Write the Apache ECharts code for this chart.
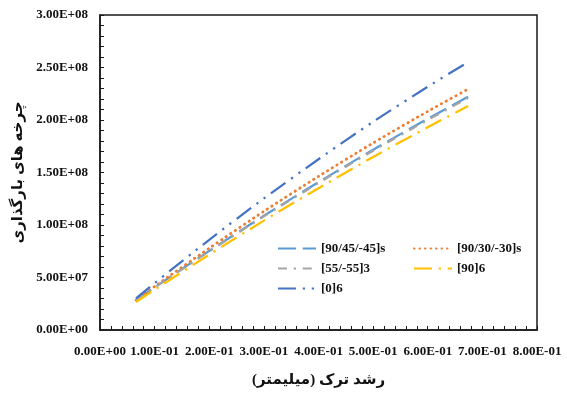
<!DOCTYPE html>
<html>
<head>
<meta charset="utf-8">
<script src="https://cdn.jsdelivr.net/npm/echarts@6/dist/echarts.min.js"></script>
<style>
  html, body { margin: 0; padding: 0; background: #fff; }
  #chart { width: 567px; height: 394px; }
</style>
</head>
<body>
<div id="chart"></div>
<script>
// Crack growth (mm) sampled along each curve
const crackGrowth = [0.066, 0.1, 0.2, 0.3, 0.4, 0.5, 0.6, 0.674];

// Loading cycles for each layup
const cycles_90_45_45s = [2.86e7, 4.07e7, 7.53e7, 1.088e8, 1.408e8, 1.717e8, 2.012e8, 2.222e8];
const cycles_90_30_30s = [2.86e7, 4.15e7, 7.79e7, 1.130e8, 1.463e8, 1.781e8, 2.082e8, 2.295e8];
const cycles_55_55_3   = [2.84e7, 4.05e7, 7.49e7, 1.082e8, 1.400e8, 1.708e8, 2.001e8, 2.210e8];
const cycles_90_6      = [2.67e7, 3.84e7, 7.18e7, 1.042e8, 1.350e8, 1.648e8, 1.931e8, 2.133e8];
const cycles_0_6       = [3.02e7, 4.47e7, 8.59e7, 1.253e8, 1.626e8, 1.983e8, 2.317e8, 2.552e8];

const seriesNames = ['[90/45/-45]s', '[90/30/-30]s', '[55/-55]3', '[90]6', '[0]6'];

const xTitle = 'رشد ترک (میلیمتر)';
const yTitle = 'چرخه های بارگذاری';

function sci(v) {
  if (Math.abs(v) < 1e-12) return '0.00E+00';
  const parts = v.toExponential(2).split('e');
  const n = parseInt(parts[1], 10);
  return parts[0] + 'E' + (n < 0 ? '-' : '+') + String(Math.abs(n)).padStart(2, '0');
}

function pairs(ys) {
  return crackGrowth.map((x, i) => [x, ys[i]]);
}

const FONT = "'Liberation Serif', 'Times New Roman', 'DejaVu Serif', 'DejaVu Sans', serif";

function lineSeries(name, ys, color, dash, width, cap) {
  return {
    name: name,
    type: 'line',
    data: pairs(ys),
    symbol: 'none',
    smooth: 0.25,
    lineStyle: { color: color, width: width, type: dash, cap: cap || 'butt' },
    itemStyle: { color: color }
  };
}

const chart = echarts.init(document.getElementById('chart'), null, { renderer: 'canvas' });

const axisCommon = {
  axisLine: { show: true, onZero: false, lineStyle: { color: '#1a1a1a', width: 1.5 } },
  axisTick: { show: true, inside: true, length: 4, lineStyle: { color: '#1a1a1a', width: 1 } },
  minorTick: { show: true, splitNumber: 5, length: 4, lineStyle: { color: '#1a1a1a', width: 1 } },
  splitLine: { show: false },
  axisLabel: { color: '#111', fontFamily: FONT, fontWeight: 'bold', fontSize: 13, formatter: sci },
  nameTextStyle: { color: '#111', fontFamily: FONT, fontWeight: 'bold', fontSize: 15 }
};

const legendText = { color: '#111', fontFamily: FONT, fontWeight: 'bold', fontSize: 13 };

chart.setOption({
  animation: false,
  backgroundColor: '#fff',
  grid: {
    left: 100, right: 30, top: 15, bottom: 64,
    show: true, borderColor: '#1a1a1a', borderWidth: 1.5, backgroundColor: 'transparent'
  },
  xAxis: Object.assign({}, axisCommon, {
    type: 'value', min: 0, max: 0.8, interval: 0.1,
    name: xTitle, nameLocation: 'middle', nameGap: 43,
    axisLabel: Object.assign({}, axisCommon.axisLabel, { margin: 15 })
  }),
  yAxis: Object.assign({}, axisCommon, {
    type: 'value', min: 0, max: 3e8, interval: 5e7,
    name: yTitle, nameLocation: 'middle', nameGap: 66, nameRotate: 90,
    axisLabel: Object.assign({}, axisCommon.axisLabel, { margin: 12 })
  }),
  legend: [
    {
      data: [seriesNames[0], seriesNames[2], seriesNames[4]],
      orient: 'vertical', left: 277, top: 242,
      itemWidth: 38, itemHeight: 14, itemGap: 7, padding: 0,
      itemStyle: { opacity: 0 },
      textStyle: legendText
    },
    {
      data: [seriesNames[1], seriesNames[3]],
      orient: 'vertical', left: 413, top: 242,
      itemWidth: 38, itemHeight: 14, itemGap: 7, padding: 0,
      itemStyle: { opacity: 0 },
      textStyle: legendText
    }
  ],
  series: [
    lineSeries(seriesNames[0], cycles_90_45_45s, '#5B9BD5', [18, 6.75], 2.25),
    lineSeries(seriesNames[1], cycles_90_30_30s, '#ED7D31', [0.5, 5], 2.75, 'round'),
    lineSeries(seriesNames[2], cycles_55_55_3, '#A5A5A5', [9, 6.75, 2.25, 6.75], 2.25),
    lineSeries(seriesNames[3], cycles_90_6, '#FFC000', [18, 6.75, 2.25, 6.75], 2.25),
    lineSeries(seriesNames[4], cycles_0_6, '#4472C4', [18, 6.75, 2.25, 6.75, 2.25, 6.75], 2.25)
  ]
});
</script>
</body>
</html>
